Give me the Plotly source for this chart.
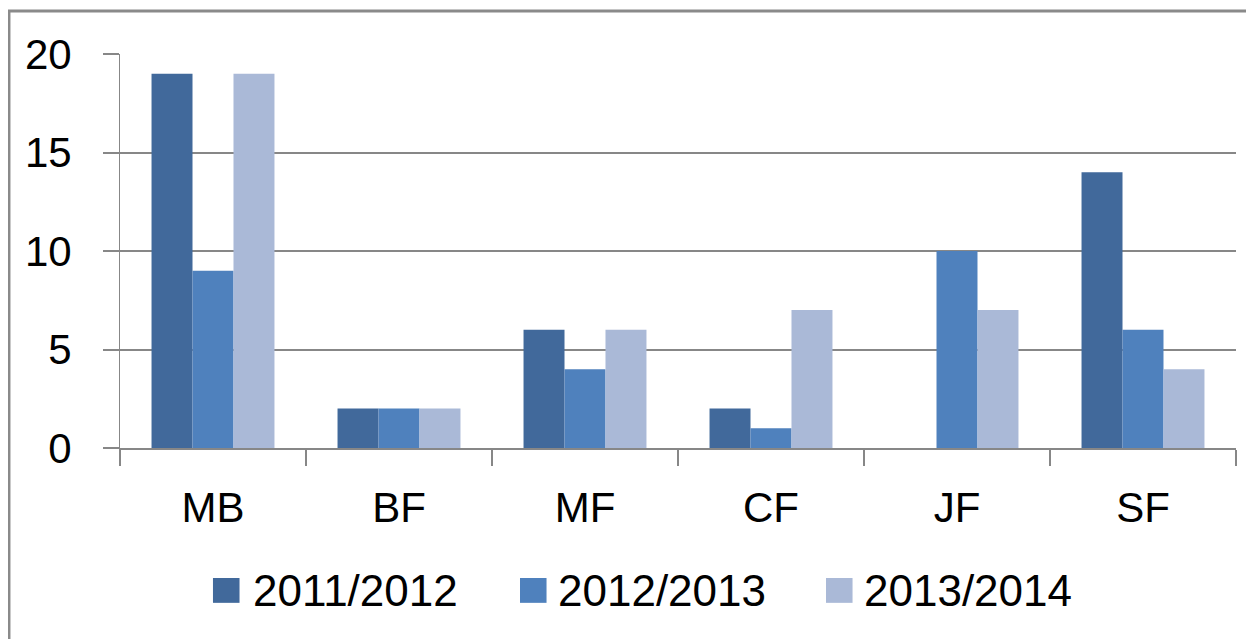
import plotly.graph_objects as go

categories = ["MB", "BF", "MF", "CF", "JF", "SF"]
series_names = ["2011/2012", "2012/2013", "2013/2014"]
v2011 = [19, 2, 6, 2, 0, 14]
v2012 = [9, 2, 4, 1, 10, 6]
v2013 = [19, 2, 6, 7, 7, 4]
colors = ["#41699B", "#4F81BD", "#AAB9D7"]
y_ticks = [0, 5, 10, 15, 20]

FONT = "Liberation Sans, Arial, sans-serif"
GRAY = "#878787"

fig = go.Figure()
for name, vals, col in zip(series_names, [v2011, v2012, v2013], colors):
    fig.add_trace(go.Bar(x=categories, y=vals, name=name, marker=dict(color=col, line=dict(width=0)),
                         showlegend=False))

# frame (left & top edges visible)
fig.add_shape(type="rect", xref="paper", yref="paper", x0=-0.0995, x1=1.03, y0=-0.55, y1=1.109,
              line=dict(color="#8A8A8A", width=3), fillcolor="rgba(0,0,0,0)", layer="below")

# custom legend
sq_x = [0.0833, 0.3584, 0.6326]
txt_x = [0.1174, 0.3907, 0.6649]
for name, col, sx, tx in zip(series_names, colors, sq_x, txt_x):
    fig.add_shape(type="rect", xref="paper", yref="paper", x0=sx, x1=sx + 0.0238,
                  y0=-0.393, y1=-0.330, fillcolor=col, line=dict(width=0))
    fig.add_annotation(xref="paper", yref="paper", x=tx, y=-0.3617, text=name, showarrow=False,
                       xanchor="left", yanchor="middle", font=dict(family=FONT, size=44, color="black"))

fig.update_layout(
    width=1246, height=631,
    margin=dict(l=112, r=18, t=46, b=191),
    paper_bgcolor="white", plot_bgcolor="white",
    barmode="group", bargap=0.339, bargroupgap=0,
    font=dict(family=FONT, size=42, color="black"),
)
fig.update_xaxes(
    type="category", showgrid=False, showline=True, linecolor=GRAY, linewidth=2,
    ticks="outside", tickson="boundaries", ticklen=16, tickcolor=GRAY, tickwidth=2,
    tickfont=dict(family=FONT, size=42, color="black"), ticklabelstandoff=22,
)
fig.update_yaxes(
    range=[0, 20], tickvals=y_ticks, showgrid=True, gridcolor=GRAY, gridwidth=2,
    showline=True, linecolor=GRAY, linewidth=1, zeroline=False,
    ticks="outside", ticklen=16, tickcolor=GRAY, tickwidth=2,
    tickfont=dict(family=FONT, size=42, color="black"), ticklabelstandoff=23,
)

fig.write_html("out.html")
